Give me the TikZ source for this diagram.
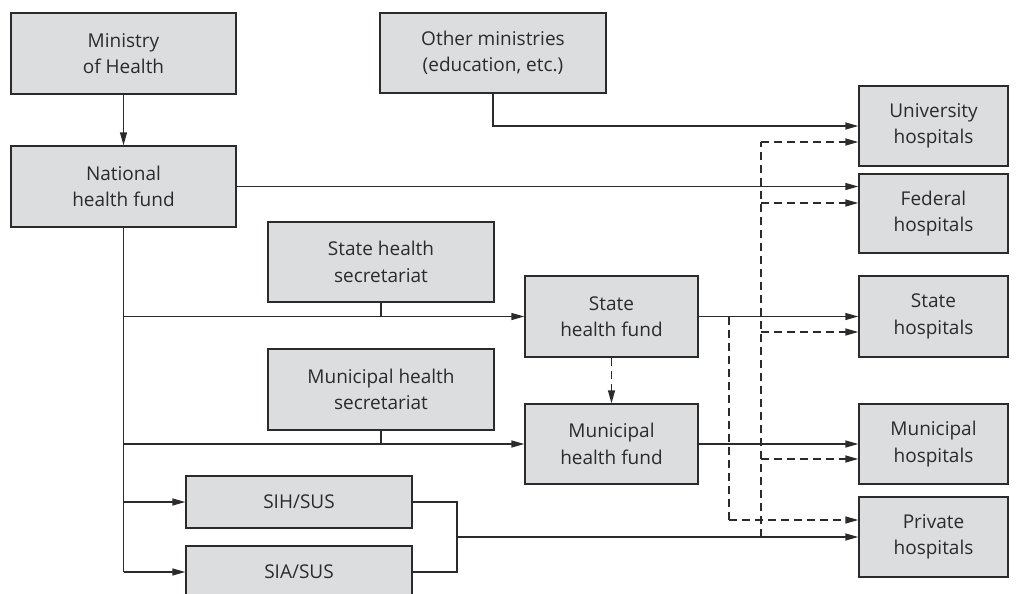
\documentclass[tikz,border=0pt]{standalone}
\usepackage{fontspec}
\setmainfont{Open Sans}
\usetikzlibrary{arrows.meta,calc}
\definecolor{boxfill}{HTML}{DCDDDE}
\definecolor{ink}{HTML}{2B2B2B}
\begin{document}
\begin{tikzpicture}[x=1pt,y=-1pt,
  box/.style={draw=ink,fill=boxfill,line width=1.4pt,align=center,inner sep=0pt,
    text=ink,font=\fontsize{19}{26.5}\selectfont},
  conn/.style={draw=ink,line width=1.4pt,-{Triangle[length=13pt,width=7pt]}},
  plain/.style={draw=ink,line width=1.4pt},
  dconn/.style={conn,dash pattern=on 8pt off 5pt},
  dplain/.style={plain,dash pattern=on 8pt off 5pt}]
\useasboundingbox (0,0) rectangle (1021,594);
\clip (0,0) rectangle (1021,594);
% boxes
\node[box,minimum width=225pt,minimum height=81pt] (moh) at (123.5,53.5) {Ministry\\of Health};
\node[box,minimum width=226pt,minimum height=80pt] (oth) at (493,53) {Other ministries\\(education, etc.)};
\node[box,minimum width=225pt,minimum height=81pt] (nhf) at (123.5,186.5) {National\\health fund};
\node[box,minimum width=149pt,minimum height=80pt] (uni) at (933.5,126) {University\\hospitals};
\node[box,minimum width=149pt,minimum height=79pt] (fed) at (933.5,213.5) {Federal\\hospitals};
\node[box,minimum width=149pt,minimum height=81pt] (sth) at (933.5,316.5) {State\\hospitals};
\node[box,minimum width=149pt,minimum height=80pt] (muh) at (933.5,444) {Municipal\\hospitals};
\node[box,minimum width=149pt,minimum height=80pt] (pvh) at (933.5,537) {Private\\hospitals};
\node[box,minimum width=226pt,minimum height=80pt] (shs) at (381,262) {State health\\secretariat};
\node[box,minimum width=173pt,minimum height=81pt] (shf) at (611.5,316.5) {State\\health fund};
\node[box,minimum width=226pt,minimum height=81pt] (mhs) at (381,389.5) {Municipal health\\secretariat};
\node[box,minimum width=173pt,minimum height=80pt] (mhf) at (611.5,444) {Municipal\\health fund};
\node[box,minimum width=226pt,minimum height=52pt] (sih) at (299,502) {SIH/SUS};
\node[box,minimum width=226pt,minimum height=52pt] (sia) at (299,572) {SIA/SUS};
% coordinates
\coordinate (nv1) at (nhf.south |- shf.west);
\coordinate (nv2) at (nhf.south |- mhf.west);
\coordinate (nv3) at (nhf.south |- sih.west);
\coordinate (nv4) at (nhf.south |- sia.west);
\coordinate (sj1) at (457,502);
\coordinate (sj2) at (457,572);
\coordinate (sj) at (457,537);
\coordinate (dA) at (761,537);
\coordinate (dAtop) at (761,142);
\coordinate (dAf) at (761,203);
\coordinate (dAs) at (761,332);
\coordinate (dAm) at (761,459);
\coordinate (dB) at (729,316.5);
\coordinate (dBbot) at (729,520);
\coordinate (om) at (493,126);
% solid connectors
\draw[conn] (moh) -- (nhf);
\draw[conn] (oth.south) -- (om) -- (uni.west);
\draw[conn] (nhf.east) -- (nhf.east -| fed.west);
\draw[plain] (nhf.south) -- (nv4);
\draw[conn] (nv1) -- (shf.west);
\draw[conn] (nv2) -- (mhf.west);
\draw[conn] (nv3) -- (sih.west);
\draw[conn] (nv4) -- (sia.west);
\draw[plain] (shs.south) -- (shs.south |- shf.west);
\draw[plain] (mhs.south) -- (mhs.south |- mhf.west);
\draw[conn] (shf.east) -- (sth.west);
\draw[conn] (mhf.east) -- (muh.west);
\draw[plain] (sih.east) -- (sj1) -- (sj2) -- (sia.east);
\draw[conn] (sj) -- (pvh.west);
% dashed connectors
\draw[dconn] (shf) -- (mhf);
\draw[dplain] (dA) -- (dAtop);
\draw[dconn] (dAtop) -- (dAtop -| uni.west);
\draw[dconn] (dAf) -- (dAf -| fed.west);
\draw[dconn] (dAs) -- (dAs -| sth.west);
\draw[dconn] (dAm) -- (dAm -| muh.west);
\draw[dplain] (dB) -- (dBbot);
\draw[dconn] (dBbot) -- (dBbot -| pvh.west);
\end{tikzpicture}
\end{document}
